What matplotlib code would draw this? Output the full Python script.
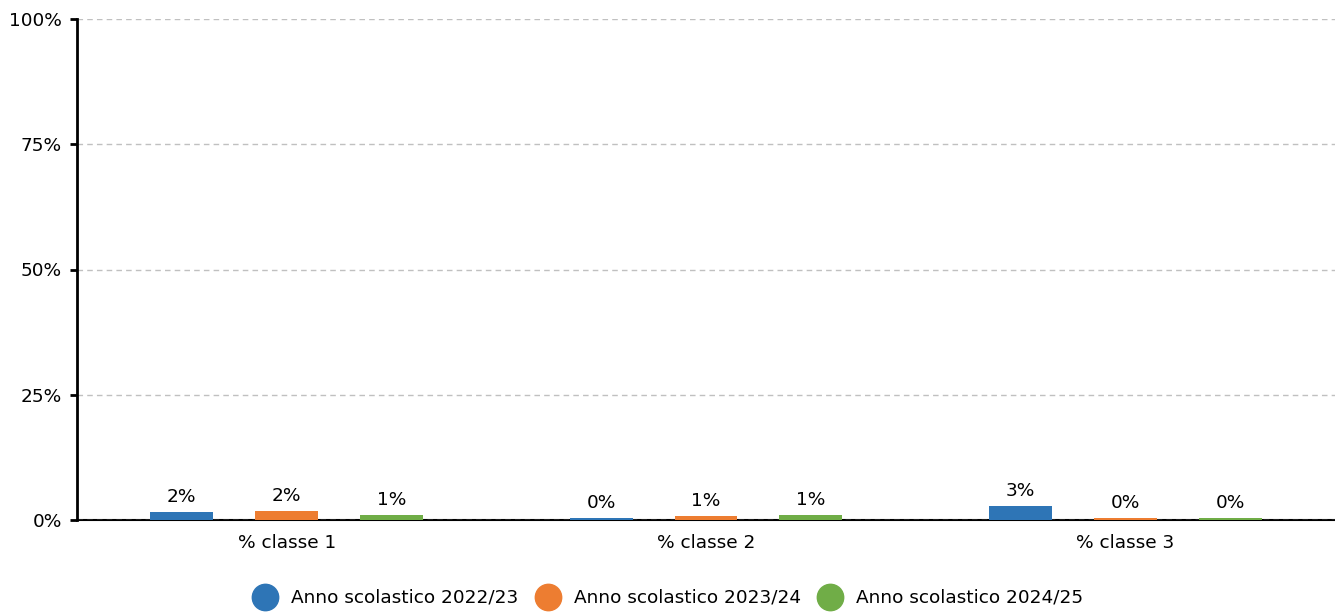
import numpy as np
import matplotlib
matplotlib.use("Agg")
import matplotlib.pyplot as plt
from matplotlib.lines import Line2D

categories = ['% classe 1', '% classe 2', '% classe 3']
series_names = ['Anno scolastico 2022/23', 'Anno scolastico 2023/24', 'Anno scolastico 2024/25']
values_2223 = [1.5, 0.3, 2.7]
values_2324 = [1.7, 0.75, 0.3]
values_2425 = [1.0, 1.0, 0.3]
colors = ['#2E75B6', '#ED7D31', '#70AD47']

plt.rcParams['font.family'] = ['DejaVu Sans']
fs = 13.3

fig = plt.figure(figsize=(13.35, 6.12), dpi=100)
ax = fig.add_axes([77/1335, 1 - 520/612, 1258/1335, 501/612])

x = np.arange(len(categories))
width = 0.15
offsets = [-0.25, 0.0, 0.25]

for vals, off, col, name in zip([values_2223, values_2324, values_2425], offsets, colors, series_names):
    bars = ax.bar(x + off, vals, width, color=col, label=name, zorder=3)
    for b, v in zip(bars, vals):
        ax.text(b.get_x() + b.get_width() / 2, v + 1.2, '%d%%' % round(v),
                ha='center', va='bottom', fontsize=fs)

ax.set_xlim(-0.5, 2.5)
ax.set_ylim(0, 100)
ax.set_yticks([0, 25, 50, 75, 100])
ax.set_yticklabels(['0%', '25%', '50%', '75%', '100%'])
ax.set_xticks(x)
ax.set_xticklabels(categories)
ax.tick_params(axis='both', labelsize=fs, length=5, width=2)
ax.tick_params(axis='y', pad=6)
ax.tick_params(axis='x', length=0, pad=10)

ax.grid(axis='y', color='#c0c0c0', ls=(0, (4, 3)), lw=1, zorder=0)
ax.axhline(0, color='#999999', ls=(0, (4, 3)), lw=1, zorder=2.5)

for s in ['top', 'right']:
    ax.spines[s].set_visible(False)
ax.spines['left'].set_linewidth(2)
ax.spines['bottom'].set_linewidth(1.5)
ax.spines['bottom'].set_zorder(2)

handles = [Line2D([], [], marker='o', ls='', markersize=19, color=c) for c in colors]
fig.legend(handles, series_names, loc='center', bbox_to_anchor=(665/1335, 1 - 598/612),
           ncol=3, frameon=False, fontsize=fs, handletextpad=0.4, columnspacing=0.6)

fig.savefig('out.png', dpi=100)
